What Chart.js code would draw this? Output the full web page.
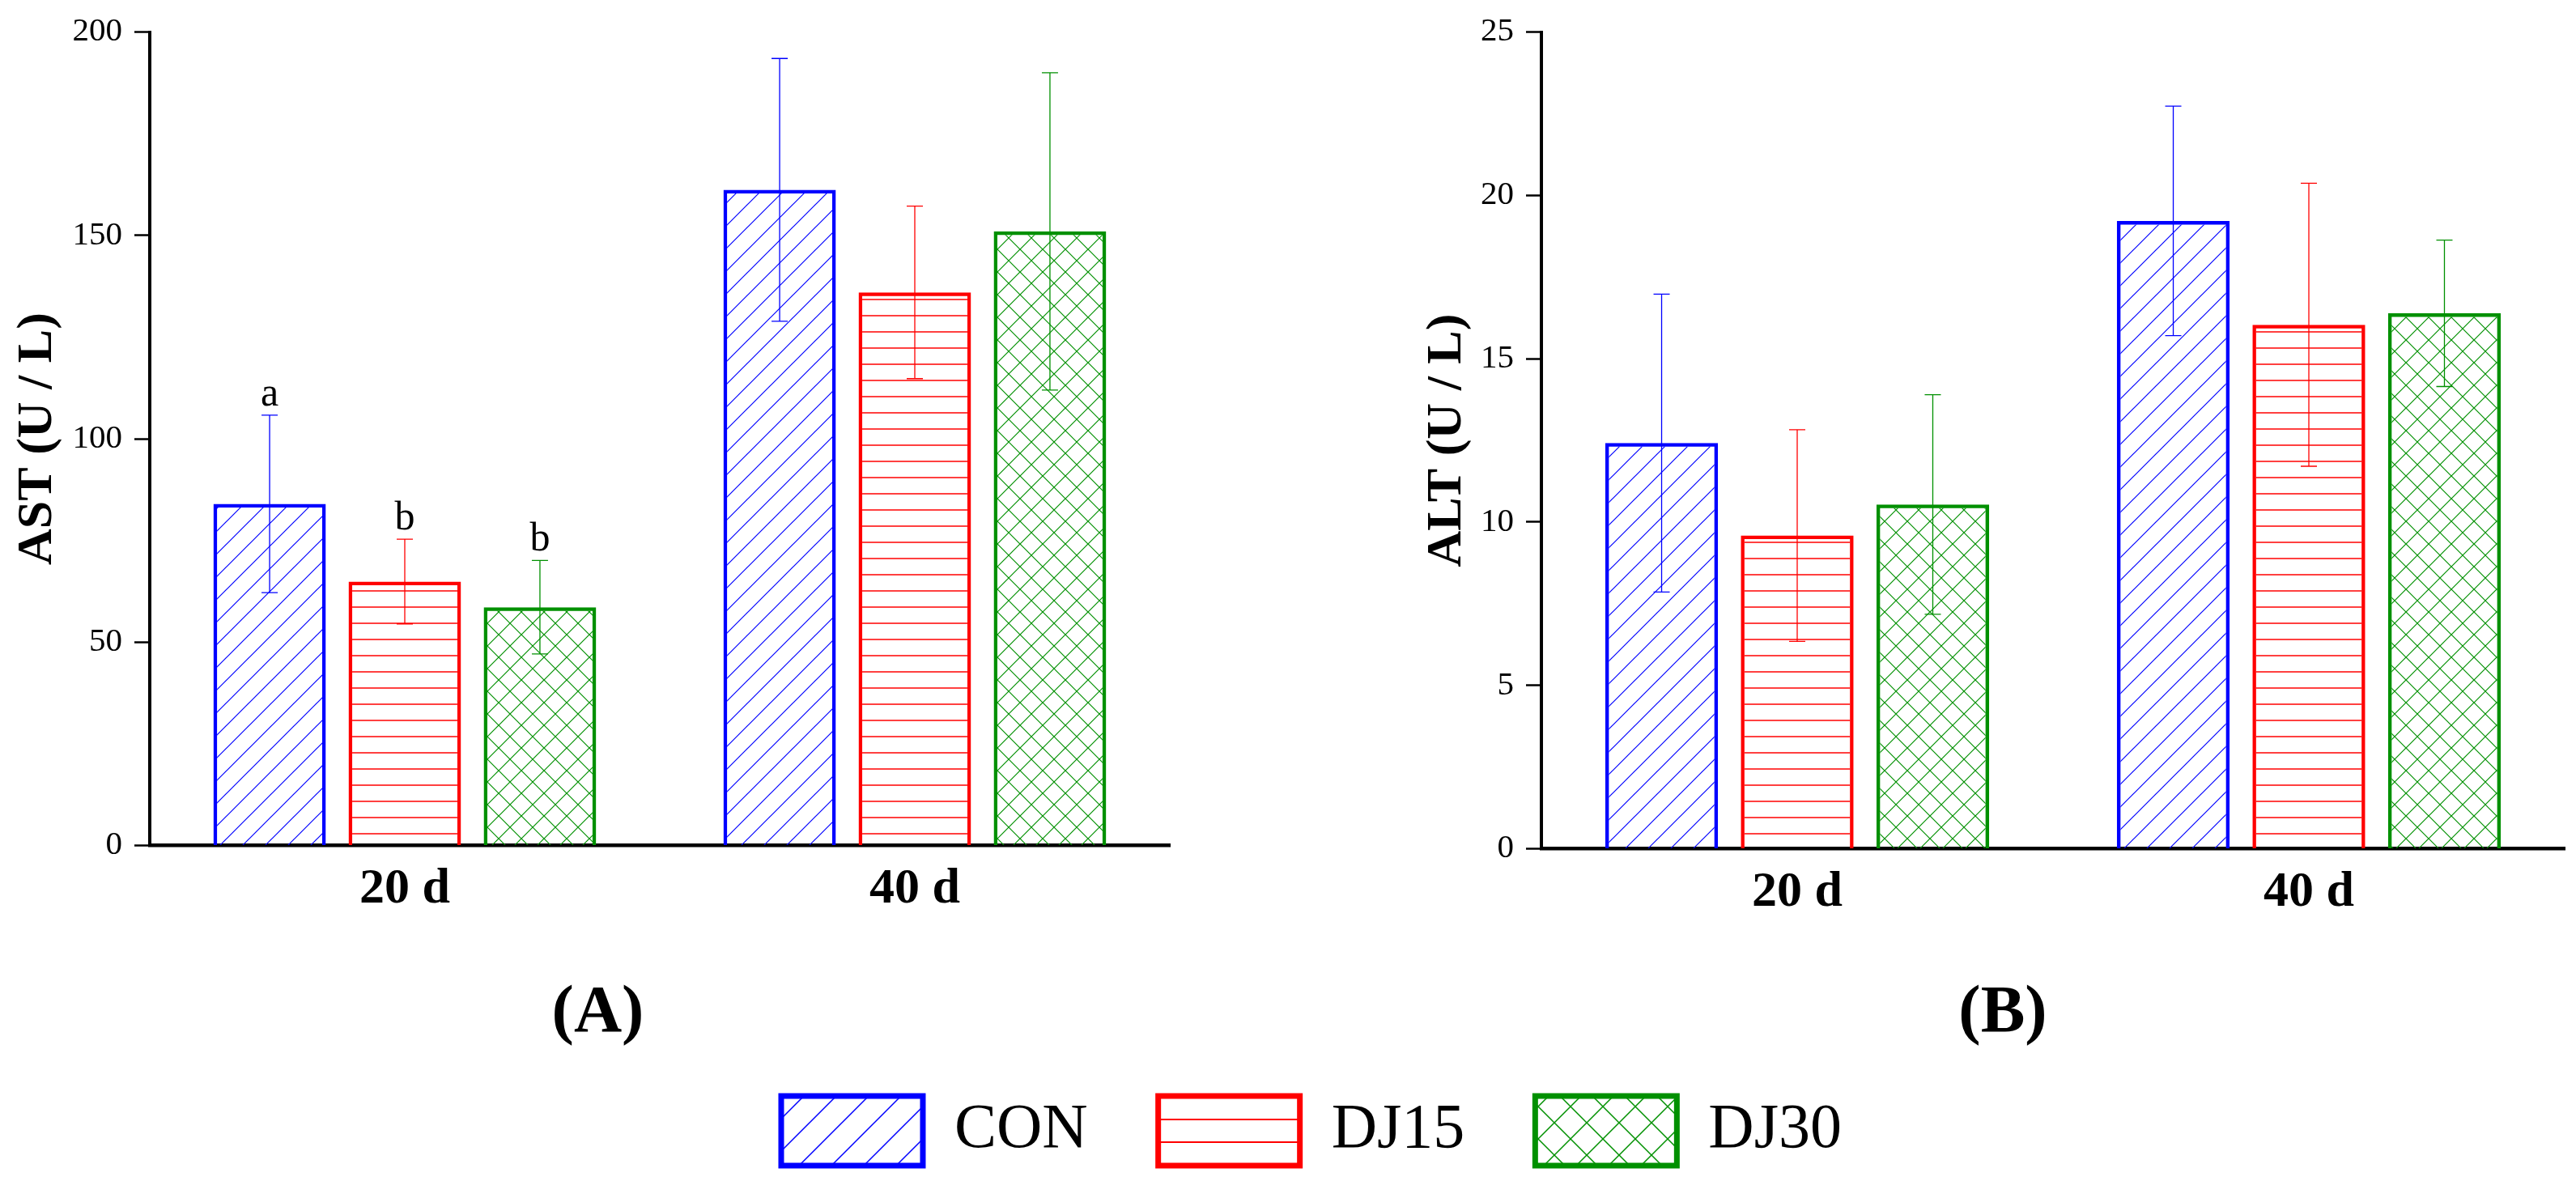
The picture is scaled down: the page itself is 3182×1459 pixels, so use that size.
<!DOCTYPE html>
<html>
<head>
<meta charset="utf-8">
<title>AST / ALT</title>
<script src="https://cdn.jsdelivr.net/npm/chart.js@4.4.1/dist/chart.umd.min.js"></script>
<style>
  body { margin: 0; background: #fff; }
  #wrap { position: relative; width: 3182px; height: 1459px; overflow: hidden; }
  canvas { position: absolute; }
</style>
</head>
<body>
<div id="wrap">
  <canvas id="astChart" width="1600" height="1320" style="left:0;top:0"></canvas>
  <canvas id="altChart" width="1582" height="1320" style="left:1600px;top:0"></canvas>
  <canvas id="legendChart" width="3182" height="560" style="left:0;top:1267px"></canvas>
</div>
<script>
// data (mean and SD per group)
var categories = ['20 d', '40 d']
var seriesNames = ['CON', 'DJ15', 'DJ30']

var astCon = [84.0, 161.2]
var astConSd = [21.8, 32.3]
var astDj15 = [64.9, 136.0]
var astDj15Sd = [10.4, 21.2]
var astDj30 = [58.6, 151.0]
var astDj30Sd = [11.5, 39.0]
// significance letters (20 d only)
var astConLetters = ['a', '']
var astDj15Letters = ['b', '']
var astDj30Letters = ['b', '']

var altCon = [12.42, 19.22]
var altConSd = [4.56, 3.51]
var altDj15 = [9.59, 16.04]
var altDj15Sd = [3.24, 4.33]
var altDj30 = [10.54, 16.39]
var altDj30Sd = [3.36, 2.24]

var astTicks = {min: 0, max: 200, step: 50}
var altTicks = {min: 0, max: 25, step: 5}

var FONT = "'Liberation Serif', 'Times New Roman', serif"
var BLUE = '#0000ff', RED = '#ff0000', GREEN = '#009000'

// hatch patterns like the Origin fills
function hatch(kind, color, step, lw, off){
    var c = document.createElement('canvas')
    c.width = step
    c.height = step
    var g = c.getContext('2d')
    g.strokeStyle = color
    g.lineWidth = lw
    g.beginPath()
    if(kind == 'diag' || kind == 'cross'){
        g.moveTo(0, step); g.lineTo(step, 0)
        g.moveTo(-2, 2); g.lineTo(2, -2)
        g.moveTo(step - 2, step + 2); g.lineTo(step + 2, step - 2)
    }
    if(kind == 'cross'){
        g.moveTo(0, 0); g.lineTo(step, step)
        g.moveTo(-2, step - 2); g.lineTo(2, step + 2)
        g.moveTo(step - 2, -2); g.lineTo(step + 2, 2)
    }
    if(kind == 'horiz'){
        g.moveTo(0, off); g.lineTo(step, off)
    }
    g.stroke()
    return g.createPattern(c, 'repeat')
}

var fills = [hatch('diag', BLUE, 28, 1.2), hatch('horiz', RED, 20, 1.5, 10), hatch('cross', GREEN, 28, 1.2)]
var legendFills = [hatch('diag', BLUE, 40, 1.5), hatch('horiz', RED, 28, 2, 4), hatch('cross', GREEN, 40, 1.5)]
var colors = [BLUE, RED, GREEN]

// error bars + letters drawn from the bar elements and the y scale
var errorBars = {
    id: 'errorBars',
    afterDatasetsDraw: function(chart){
        var ctx = chart.ctx
        var y = chart.scales.y
        chart.data.datasets.forEach(function(ds, i){
            var meta = chart.getDatasetMeta(i)
            meta.data.forEach(function(bar, j){
                var m = ds.data[j], e = ds.errors[j]
                var yt = y.getPixelForValue(m + e)
                var yb = y.getPixelForValue(m - e)
                ctx.save()
                ctx.strokeStyle = ds.borderColor
                ctx.lineWidth = 1.3
                ctx.beginPath()
                ctx.moveTo(bar.x, yt); ctx.lineTo(bar.x, yb)
                ctx.moveTo(bar.x - 10, yt); ctx.lineTo(bar.x + 10, yt)
                ctx.moveTo(bar.x - 10, yb); ctx.lineTo(bar.x + 10, yb)
                ctx.stroke()
                if(ds.letters && ds.letters[j]){
                    ctx.fillStyle = '#000'
                    ctx.font = '50px ' + FONT
                    ctx.textAlign = 'center'
                    ctx.textBaseline = 'alphabetic'
                    ctx.fillText(ds.letters[j], bar.x, yt - 12)
                }
                ctx.restore()
            })
        })
    }
}

function makeDatasets(means, sds, letters){
    return seriesNames.map(function(name, i){
        return {
            label: name,
            data: means[i],
            errors: sds[i],
            letters: letters ? letters[i] : null,
            backgroundColor: fills[i],
            borderColor: colors[i],
            borderWidth: 4.5,
            borderSkipped: 'start',
            barPercentage: 0.832,
            categoryPercentage: 0.795
        }
    })
}

function makeChart(id, datasets, ticks, yTitle, panel, pad, yWidth, titlePad, xHeight){
    return new Chart(document.getElementById(id), {
        type: 'bar',
        data: {labels: categories, datasets: datasets},
        plugins: [errorBars],
        options: {
            responsive: false,
            animation: false,
            devicePixelRatio: 1,
            layout: {padding: pad},
            plugins: {
                legend: {display: false},
                tooltip: {enabled: false},
                title: {
                    display: true,
                    position: 'bottom',
                    text: panel,
                    color: '#000',
                    font: {family: FONT, size: 82, weight: 'bold'},
                    padding: {top: 0, bottom: 18}
                }
            },
            scales: {
                x: {
                    offset: true,
                    grid: {display: false, drawTicks: false},
                    border: {display: true, width: 4.5, color: '#000'},
                    ticks: {color: '#000', padding: 17, font: {family: FONT, size: 62, weight: 'bold'}},
                    afterFit: function(s){ s.height = xHeight }
                },
                y: {
                    min: ticks.min,
                    max: ticks.max,
                    ticks: {stepSize: ticks.step, color: '#000', padding: 15, font: {family: FONT, size: 41}},
                    grid: {drawOnChartArea: false, drawTicks: true, tickLength: 19, tickWidth: 2.5, tickColor: '#000'},
                    border: {display: true, width: 4, color: '#000'},
                    title: {
                        display: true,
                        text: yTitle,
                        color: '#000',
                        font: {family: FONT, size: 62, weight: 'bold'},
                        padding: {top: titlePad, bottom: 0}
                    },
                    afterFit: function(s){ s.width = yWidth }
                }
            }
        }
    })
}

makeChart('astChart',
    makeDatasets([astCon, astDj15, astDj30], [astConSd, astDj15Sd, astDj30Sd], [astConLetters, astDj15Letters, astDj30Letters]),
    astTicks, 'AST (U / L)', '(A)', {left: 32, right: 155, top: 34, bottom: 0}, 153, -22, 159)

makeChart('altChart',
    makeDatasets([altCon, altDj15, altDj30], [altConSd, altDj15Sd, altDj30Sd], null),
    altTicks, 'ALT (U / L)', '(B)', {left: 180, right: 14, top: 33, bottom: 0}, 124, -29, 155)

// shared legend under both panels
new Chart(document.getElementById('legendChart'), {
    type: 'bar',
    data: {
        labels: [],
        datasets: seriesNames.map(function(name, i){
            return {label: name, data: [], backgroundColor: legendFills[i], borderColor: colors[i], borderWidth: 7}
        })
    },
    options: {
        responsive: false,
        animation: false,
        devicePixelRatio: 1,
        layout: {padding: {left: 58}},
        scales: {x: {display: false}, y: {display: false}},
        plugins: {
            tooltip: {enabled: false},
            legend: {
                display: true,
                position: 'top',
                align: 'center',
                labels: {boxWidth: 175, boxHeight: 86, padding: 87, color: '#000', font: {family: FONT, size: 78}}
            }
        }
    }
})
</script>
</body>
</html>
